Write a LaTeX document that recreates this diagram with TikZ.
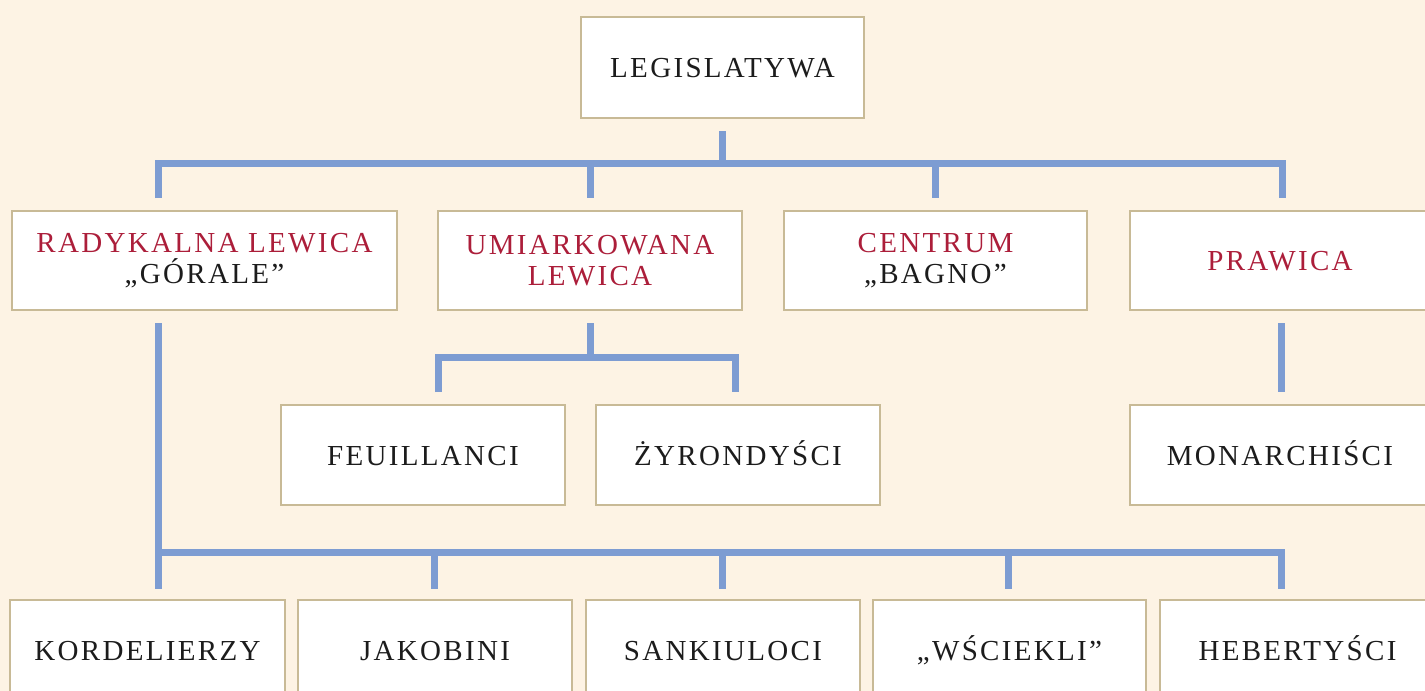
\documentclass[tikz,border=0pt]{standalone}
\usepackage{fontspec}
\setmainfont{Liberation Serif}[LetterSpace=8]
\definecolor{bgcream}{RGB}{253,243,228}
\definecolor{boxline}{RGB}{200,186,150}
\definecolor{connblue}{RGB}{125,156,210}
\definecolor{txtred}{RGB}{172,30,58}
\definecolor{txtdark}{RGB}{28,28,28}
\tikzset{
  box/.style={draw=boxline, line width=1pt, fill=white, text=txtdark,
    align=center, inner sep=0pt, font=\fontsize{14.5}{15.5}\selectfont},
  one/.style={text height=10pt, text depth=0pt},
  conn/.style={draw=connblue, line width=3.5pt, line join=miter}
}
\begin{document}
\begin{tikzpicture}[x=0.5pt,y=-0.5pt]
\fill[bgcream] (0,0) rectangle (1425,691);
\useasboundingbox (0,0) rectangle (1425,691);
% row 1
\node[box, one, minimum width=141.5pt, minimum height=50.5pt] (leg) at (722.5,67.5) {LEGISLATYWA};
% row 2
\node[box, minimum width=192.5pt, minimum height=49.5pt] (rad) at (204.5,260.5) {\textcolor{txtred}{RADYKALNA LEWICA}\\„GÓRALE”};
\node[box, minimum width=152pt, minimum height=49.5pt] (umi) at (590,260.5) {\textcolor{txtred}{UMIARKOWANA}\\\textcolor{txtred}{LEWICA}};
\node[box, minimum width=151.5pt, minimum height=49.5pt] (cen) at (935.5,260.5) {\textcolor{txtred}{CENTRUM}\\„BAGNO”};
\node[box, one, minimum width=150pt, minimum height=49.5pt] (pra) at (1280,260.5) {\textcolor{txtred}{PRAWICA}};
% row 3
\node[box, one, minimum width=142pt, minimum height=50pt] (feu) at (423,455) {FEUILLANCI};
\node[box, one, minimum width=142pt, minimum height=50pt] (zyr) at (738,455) {ŻYRONDYŚCI};
\node[box, one, minimum width=150pt, minimum height=50pt] (mon) at (1280,455) {MONARCHIŚCI};
% row 4
\node[box, one, minimum width=137.5pt, minimum height=50pt] (kor) at (147.5,650) {KORDELIERZY};
\node[box, one, minimum width=137pt, minimum height=50pt] (jak) at (435,650) {JAKOBINI};
\node[box, one, minimum width=137pt, minimum height=50pt] (san) at (723,650) {SANKIULOCI};
\node[box, one, minimum width=136.5pt, minimum height=50pt] (wsc) at (1009.5,650) {„WŚCIEKLI”};
\node[box, one, minimum width=137.5pt, minimum height=50pt] (heb) at (1297.5,650) {HEBERTYŚCI};
% bus coordinates
\coordinate (t0) at (722.5,163);
\coordinate (t1) at (158,163);
\coordinate (t2) at (590,163);
\coordinate (t3) at (935,163);
\coordinate (t4) at (1282,163);
\coordinate (u0) at (590,357);
\coordinate (u1) at (438,357);
\coordinate (u2) at (735,357);
\coordinate (p0) at (1281,322);
\coordinate (r0) at (158,322);
\coordinate (r1) at (158,552);
\coordinate (r2) at (434,552);
\coordinate (r3) at (722,552);
\coordinate (r4) at (1008,552);
\coordinate (r5) at (1281,552);
% connectors
\draw[conn] ([yshift=-6pt]leg.south) -- (t0);
\draw[conn] ([yshift=6pt]t1 |- rad.north) -- (t1) -- (t4) -- ([yshift=6pt]t4 |- pra.north);
\draw[conn] (t2) -- ([yshift=6pt]t2 |- umi.north);
\draw[conn] (t3) -- ([yshift=6pt]t3 |- cen.north);
\draw[conn] ([yshift=-6pt]umi.south) -- (u0);
\draw[conn] ([yshift=6pt]u1 |- feu.north) -- (u1) -- (u2) -- ([yshift=6pt]u2 |- zyr.north);
\draw[conn] ([yshift=-6pt]p0 |- pra.south) -- ([yshift=6pt]p0 |- mon.north);
\draw[conn] ([yshift=-6pt]r0 |- rad.south) -- ([yshift=5pt]r1 |- kor.north);
\draw[conn] (r1) -- (r5) -- ([yshift=5pt]r5 |- heb.north);
\draw[conn] (r2) -- ([yshift=5pt]r2 |- jak.north);
\draw[conn] (r3) -- ([yshift=5pt]r3 |- san.north);
\draw[conn] (r4) -- ([yshift=5pt]r4 |- wsc.north);
\end{tikzpicture}
\end{document}
